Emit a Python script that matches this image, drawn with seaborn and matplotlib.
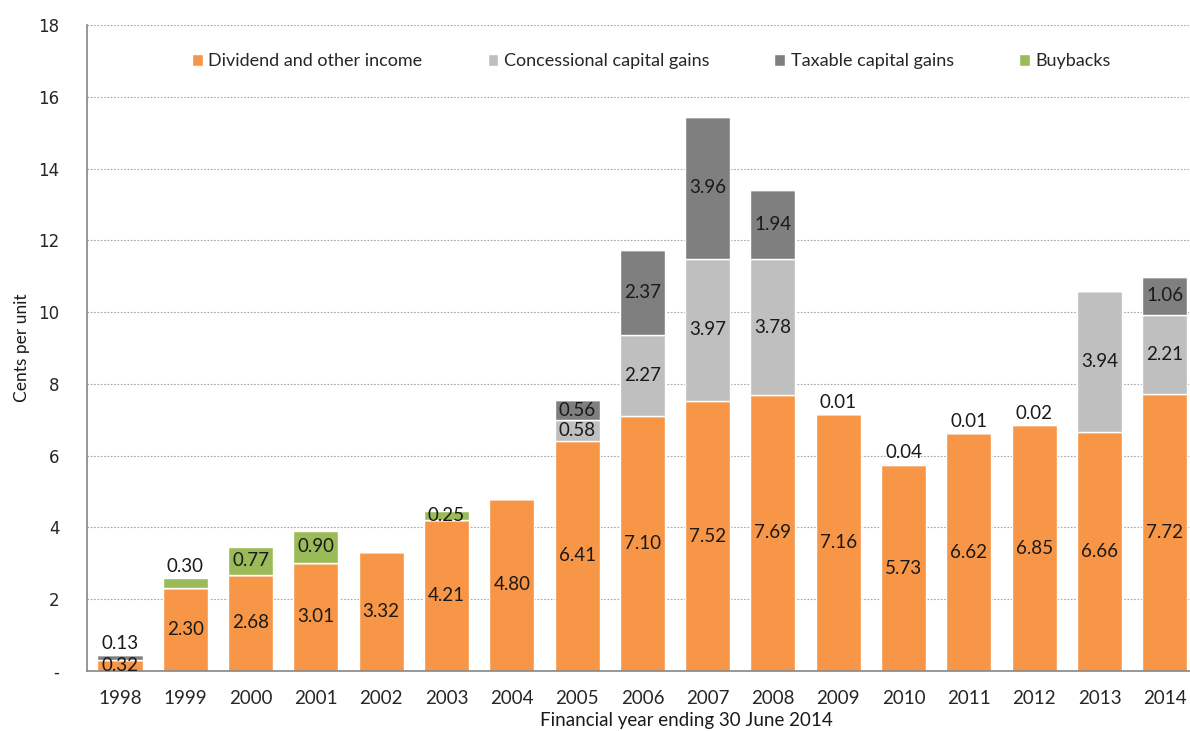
import matplotlib
matplotlib.use('Agg')
import matplotlib.pyplot as plt
from matplotlib.patches import Patch
from matplotlib.ticker import FixedLocator
import numpy as np
import seaborn as sns

# data (cents per unit)
years = ['1998', '1999', '2000', '2001', '2002', '2003', '2004', '2005', '2006',
         '2007', '2008', '2009', '2010', '2011', '2012', '2013', '2014']
dividend = [0.32, 2.30, 2.68, 3.01, 3.32, 4.21, 4.80, 6.41, 7.10,
            7.52, 7.69, 7.16, 5.73, 6.62, 6.85, 6.66, 7.72]
concessional = [0, 0, 0, 0, 0, 0, 0, 0.58, 2.27,
                3.97, 3.78, 0.01, 0.04, 0.01, 0.02, 3.94, 2.21]
taxable = [0.13, 0, 0, 0, 0, 0, 0, 0.56, 2.37,
           3.96, 1.94, 0, 0, 0, 0, 0, 1.06]
buybacks = [0, 0.30, 0.77, 0.90, 0, 0.25, 0, 0, 0,
            0, 0, 0, 0, 0, 0, 0, 0]

series_names = ['Dividend and other income', 'Concessional capital gains',
                'Taxable capital gains', 'Buybacks']
series_values = [dividend, concessional, taxable, buybacks]
colors = ['#F79646', '#BFBFBF', '#7F7F7F', '#9BBB59']

# labels that sit above the bar instead of inside the segment
edge_labels = {('Taxable capital gains', '1998'), ('Buybacks', '1999'),
               ('Concessional capital gains', '2009'), ('Concessional capital gains', '2010'),
               ('Concessional capital gains', '2011'), ('Concessional capital gains', '2012')}

sns.set_style('white')
plt.rcParams['font.family'] = ['Lato', 'DejaVu Sans']

fig = plt.figure(figsize=(11.9, 7.31), dpi=100)
ax = fig.add_axes([0.0734, 0.0821, 0.9328, 0.8837])

bottom = np.zeros(len(years))
for name, vals, col in zip(series_names, series_values, colors):
    sns.barplot(x=years, y=vals, bottom=bottom.copy(), color=col, saturation=1,
                width=0.69, errorbar=None, ax=ax)
    cont = ax.containers[-1]
    centre = [f'{v:.2f}' if v > 0 and (name, y) not in edge_labels else ''
              for v, y in zip(vals, years)]
    edge = [f'{v:.2f}' if v > 0 and (name, y) in edge_labels else ''
            for v, y in zip(vals, years)]
    ax.bar_label(cont, labels=centre, label_type='center', fontsize=13.5, color='#1a1a1a')
    ax.bar_label(cont, labels=edge, label_type='edge', padding=2, fontsize=13.5, color='#1a1a1a')
    bottom += np.array(vals)

ax.set_xlim(-0.5, len(years) - 0.5)
ax.set_ylim(0, 18)
ax.set_yticks(np.arange(0, 19, 2))
ax.set_yticklabels(['-'] + [str(v) for v in range(2, 19, 2)],
                   fontsize=12, family=['DejaVu Sans'], color='#262626')
ax.tick_params(axis='y', length=6, color='#868686', width=0.8, pad=14)
ax.tick_params(axis='x', which='major', length=0, labelsize=13.5, labelcolor='#262626', pad=14)
ax.xaxis.set_minor_locator(FixedLocator(np.arange(-0.5, len(years), 1)))
ax.tick_params(axis='x', which='minor', length=7, color='#868686', width=1)

ax.yaxis.grid(True, linestyle=(0, (1.5, 1.5)), color='#a6a6a6', linewidth=0.8)
ax.set_axisbelow(True)
for side in ['top', 'right']:
    ax.spines[side].set_visible(False)
for side in ['left', 'bottom']:
    ax.spines[side].set_color('#868686')
    ax.spines[side].set_linewidth(1.2)

ax.set_ylabel('Cents per unit', fontsize=12.5, color='#1a1a1a')
ax.yaxis.set_label_coords(-0.052, 0.5)
ax.set_xlabel('Financial year ending 30 June 2014', fontsize=13.5, color='#1a1a1a')
ax.xaxis.set_label_coords(0.54, -0.063)

handles = [Patch(facecolor=c, label=n) for n, c in zip(series_names, colors)]
ax.legend(handles=handles, loc='center', bbox_to_anchor=(0.508, 0.944), ncol=4,
          frameon=False, fontsize=13, handlelength=0.6, handleheight=0.6,
          handletextpad=0.3, columnspacing=3.6)

fig.savefig('out.png', dpi=100)
